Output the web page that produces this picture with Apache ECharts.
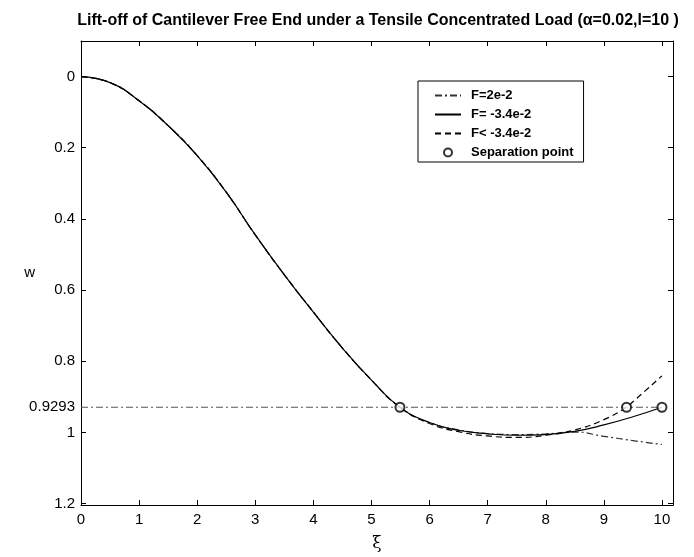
<!DOCTYPE html>
<html>
<head>
<meta charset="utf-8">
<script src="https://cdn.jsdelivr.net/npm/echarts@6/dist/echarts.min.js"></script>
<style>
  html, body { margin: 0; padding: 0; background: #fff; }
  #main { width: 694px; height: 557px; }
</style>
</head>
<body>
<div id="main"></div>
<script>
// 数据：横坐标 xi 与各曲线的挠度 w
const xiValues = [0, 0.5, 1, 1.5, 2, 2.5, 3, 3.5, 4, 4.5, 5, 5.49, 6, 6.5, 7, 7.5, 8, 8.5, 9, 9.5, 10];
const commonW = [0, 0.017, 0.068, 0.138, 0.222, 0.325, 0.445, 0.557, 0.662, 0.763, 0.853, 0.9293];
// F=2e-2（点划线）
const wTensile = commonW.concat([0.972, 0.993, 1.003, 1.006, 1.004, 0.999, 1.011, 1.023, 1.034]);
// F=-3.4e-2（实线）
const wCritical = commonW.concat([0.972, 0.994, 1.004, 1.008, 1.006, 0.997, 0.979, 0.956, 0.9293]);
// F<-3.4e-2（虚线），在 9.39 处与 0.9293 相交
const xiBeyond = xiValues.slice(0, 19).concat([9.39, 9.5, 10]);
const wBeyond = commonW.concat([0.975, 0.998, 1.01, 1.014, 1.008, 0.993, 0.964, 0.9293, 0.914, 0.841]);
// 分离点
const sepXi = [5.49, 9.39, 10];
const sepW = [0.9293, 0.9293, 0.9293];
const wLevel = 0.9293;
const xTicks = [0, 1, 2, 3, 4, 5, 6, 7, 8, 9, 10];
const yTicks = [0, 0.2, 0.4, 0.6, 0.8, 1, 1.2];
const yLabels = [0, 0.2, 0.4, 0.6, 0.8, 0.9293, 1, 1.2];

const pair = (xs, ys) => xs.map((x, i) => [x, ys[i]]);

let myChart = echarts.init(document.getElementById("main"));
const font = "'Liberation Sans', Arial, sans-serif";
const dashDot = [7, 3, 2, 3];

const baseX = {
  type: "value", min: 0, max: 10.19,
  axisLine: { show: true, onZero: false, lineStyle: { color: "#000", width: 1 } },
  axisTick: { show: true, inside: true, length: 5, customValues: xTicks, lineStyle: { color: "#000" } },
  splitLine: { show: false },
};
const baseY = {
  type: "value", min: -0.1, max: 1.204, inverse: true,
  axisLine: { show: true, onZero: false, lineStyle: { color: "#000", width: 1 } },
  axisTick: { show: true, inside: true, length: 5, customValues: yTicks, lineStyle: { color: "#000" } },
  splitLine: { show: false },
};
// 图例中线条不显示标记
const hideMark = { opacity: 0 };

let option = {
  animation: false,
  backgroundColor: "#fff",
  title: {
    text: "Lift-off of Cantilever Free End under a Tensile Concentrated Load (α=0.02,l=10 )",
    left: 373, top: 8, textAlign: "center",
    textStyle: { fontFamily: font, fontSize: 16, fontWeight: "bold", color: "#000" },
  },
  legend: {
    orient: "vertical",
    left: 418, top: 81,
    backgroundColor: "#fff",
    borderColor: "#000", borderWidth: 1,
    padding: [8, 10, 3, 16],
    itemWidth: 26, itemHeight: 8, itemGap: 6,
    textStyle: { fontFamily: font, fontSize: 13, fontWeight: "bold", color: "#000", padding: [0, 0, 0, 5] },
    data: [
      { name: "F=2e-2", itemStyle: hideMark },
      { name: "F= -3.4e-2", itemStyle: hideMark },
      { name: "F< -3.4e-2", itemStyle: hideMark },
      { name: "Separation point", icon: "emptyCircle" },
    ],
  },
  grid: { left: 81, right: 21, top: 41, bottom: 50 },
  xAxis: [
    Object.assign({}, baseX, {
      position: "bottom",
      name: "ξ", nameLocation: "middle", nameGap: 30,
      nameTextStyle: { fontFamily: "'DejaVu Serif', serif", fontSize: 17, color: "#000" },
      axisLabel: { customValues: xTicks, fontFamily: font, fontSize: 15, color: "#000", margin: 7 },
    }),
    Object.assign({}, baseX, { position: "top", axisLabel: { show: false } }),
  ],
  yAxis: [
    Object.assign({}, baseY, {
      position: "left",
      name: "w", nameLocation: "middle", nameGap: 46, nameRotate: 0, nameMoveOverlap: false,
      nameTextStyle: { fontFamily: font, fontSize: 15, color: "#000" },
      axisLabel: { customValues: yLabels, fontFamily: font, fontSize: 15, color: "#000", margin: 6 },
    }),
    Object.assign({}, baseY, { position: "right", axisLabel: { show: false } }),
  ],
  series: [
    {
      name: "level", type: "line", symbol: "none", silent: true,
      data: [[0, wLevel], [10, wLevel]],
      lineStyle: { color: "#555", width: 1.2, type: dashDot },
    },
    {
      name: "F=2e-2", type: "line", symbol: "none", smooth: 0.5,
      data: pair(xiValues, wTensile),
      lineStyle: { color: "#333", width: 1.2, type: dashDot },
      itemStyle: { color: "#333" },
    },
    {
      name: "F= -3.4e-2", type: "line", symbol: "none", smooth: 0.5,
      data: pair(xiValues, wCritical),
      lineStyle: { color: "#000", width: 1.2, type: "solid" },
      itemStyle: { color: "#000" },
    },
    {
      name: "F< -3.4e-2", type: "line", symbol: "none", smooth: 0.5,
      data: pair(xiBeyond, wBeyond),
      lineStyle: { color: "#000", width: 1.2, type: [6, 4] },
      itemStyle: { color: "#000" },
    },
    {
      name: "Separation point", type: "scatter", symbol: "emptyCircle", symbolSize: 9,
      data: pair(sepXi, sepW),
      itemStyle: { color: "#000", borderColor: "#000", borderWidth: 1.2 },
      z: 5,
    },
  ],
};
option && myChart.setOption(option);
</script>
</body>
</html>
